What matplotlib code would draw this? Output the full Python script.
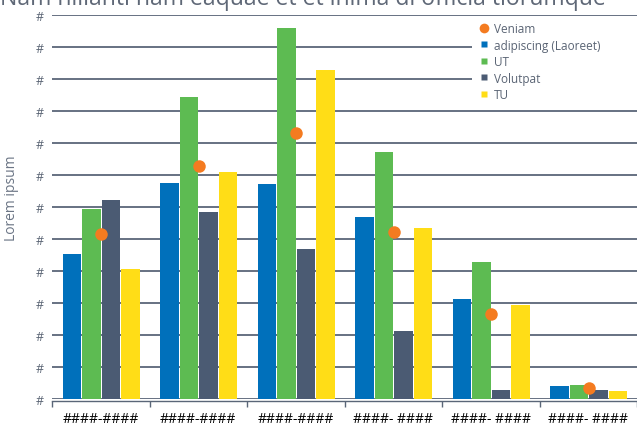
import matplotlib
matplotlib.use("Agg")
import matplotlib.pyplot as plt
from matplotlib.lines import Line2D
from matplotlib.patches import Rectangle
import numpy as np

# ---- data ----
categories = ["####-####", "####-####", "####-####", "####- ####", "####- ####", "####- ####"]
series_names = ["adipiscing (Laoreet)", "UT", "Volutpat", "TU"]
adipiscing = [4.52, 6.75, 6.72, 5.67, 3.12, 0.39]
ut = [5.92, 9.44, 11.60, 7.72, 4.27, 0.42]
volutpat = [6.20, 5.82, 4.67, 2.13, 0.26, 0.26]
tu = [4.05, 7.10, 10.26, 5.33, 2.92, 0.23]
veniam = [5.16, 7.28, 8.30, 5.20, 2.65, 0.32]
y_ticks = list(range(13))
y_tick_labels = ["#"] * 13

title = "Nam nillanti nam eaquae et et inima di officia tiorumque"
ylabel = "Lorem ipsum"

colors = ["#0070BB", "#5DBB52", "#4B5B73", "#FFDD17"]
orange = "#F47B20"
text_col = "#5a6474"
grid_col = "#5a6678"

plt.rcParams["font.family"] = ["Open Sans", "DejaVu Sans"]

W, H, DPI = 637, 427, 100
fig = plt.figure(figsize=(W / DPI, H / DPI), dpi=DPI)
ax = fig.add_axes([52 / W, 1 - 399.7 / H, (W - 52) / W, (399.7 - 15.7) / H])

n = len(categories)
x = np.arange(n) + 0.5
slot = 0.2
bw = 0.185
all_series = [adipiscing, ut, volutpat, tu]
for i, (vals, c, name) in enumerate(zip(all_series, colors, series_names)):
    ax.bar(x + (i - 1.5) * slot + 0.005, vals, width=bw, color=c, zorder=2, label=name)
ax.plot(x + 0.005, veniam, "o", ms=9, color=orange, mec="none", zorder=3)

ax.set_xlim(0, n)
ax.set_ylim(0, 12)
ax.set_yticks(y_ticks)
ax.set_yticklabels(y_tick_labels)
ax.tick_params(axis="y", length=0, pad=6, labelsize=9, labelcolor=text_col)
ax.yaxis.grid(True, color=grid_col, lw=1.3, zorder=0)
ax.set_axisbelow(True)

ax.set_xticks(np.arange(n + 1))
ax.set_xticklabels([])
ax.set_xticks(x, minor=True)
ax.set_xticklabels(categories, minor=True, family="DejaVu Sans", fontsize=7.5, color=text_col)
ax.tick_params(axis="x", which="major", length=4, width=1, color=grid_col, direction="out")
ax.tick_params(axis="x", which="minor", length=0, pad=7)

for s in ["left", "right", "top"]:
    ax.spines[s].set_visible(False)
ax.spines["bottom"].set_color(grid_col)
ax.spines["bottom"].set_linewidth(1)
ax.spines["bottom"].set_position(("outward", 2))

# title fitted to the reference width
t = fig.text(303 / W, 1 - 5 / H, title, ha="center", va="baseline", fontsize=15, color="#5f6877")
fig.canvas.draw()
bb = t.get_window_extent()
t.set_fontsize(15 * 603 / bb.width)

fig.text(12 / W, 1 - 198 / H, ylabel, rotation=90, ha="center", va="center", fontsize=10, color="#6b7585")

# white legend background
fig.add_artist(Rectangle((472 / W, 1 - 109 / H), 165 / W, 89 / H, transform=fig.transFigure,
                         facecolor="white", edgecolor="none", zorder=1))
handles = [Line2D([], [], ls="none", marker="o", ms=7, color=orange, mec="none", label="Veniam")]
for c, name in zip(colors, series_names):
    handles.append(Line2D([], [], ls="none", marker="s", ms=5, color=c, mec="none", label=name))
leg = fig.legend(handles=handles, loc="upper left", bbox_to_anchor=(478 / W, 1 - 23 / H),
                 frameon=False, borderpad=0, handlelength=1.0, handletextpad=0.36,
                 labelspacing=0.3, fontsize=8.5, labelcolor=text_col, borderaxespad=0)

fig.savefig("out.png", dpi=DPI)
